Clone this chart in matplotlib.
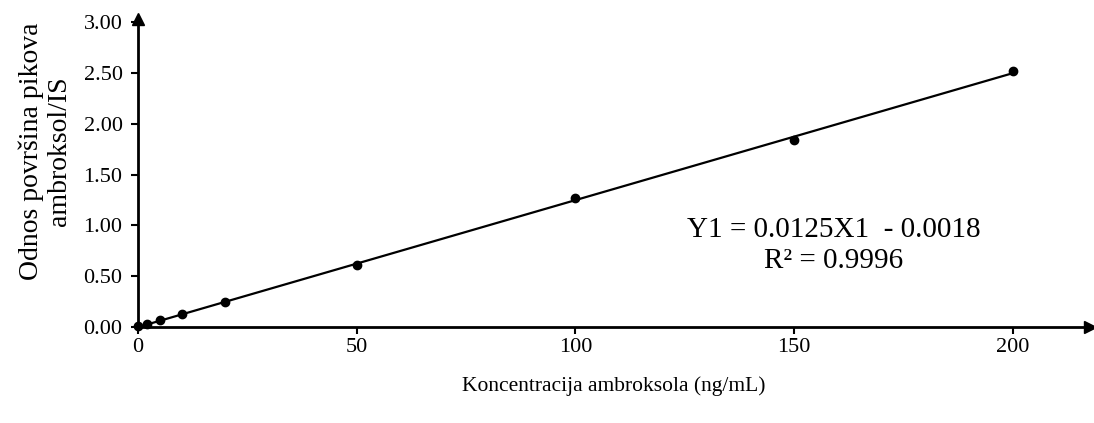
import numpy as np
import matplotlib.pyplot as plt

plt.rcParams['font.family'] = ['Liberation Serif', 'DejaVu Serif']

# calibration data
conc = [0, 2, 5, 10, 20, 50, 100, 150, 200]
ratio = [0.005, 0.03, 0.065, 0.125, 0.25, 0.61, 1.27, 1.84, 2.52]
slope = 0.0125
intercept = -0.0018
xticks = [0, 50, 100, 150, 200]
yticks = [0.0, 0.5, 1.0, 1.5, 2.0, 2.5, 3.0]

fig = plt.figure(figsize=(10.94, 4.23), dpi=100)
ax = fig.add_axes([0.126, 0.227, 0.87, 0.728])

# trendline
xl = np.array([conc[0], conc[-1]])
ax.plot(xl, slope * xl + intercept, color='black', lw=1.6, zorder=2)
ax.plot(conc, ratio, 'o', color='black', ms=6, zorder=3, clip_on=False)

ax.set_xlim(0, 217.5)
ax.set_ylim(0, 3.03)
ax.set_xticks(xticks)
ax.set_yticks(yticks)
ax.set_xticklabels([str(t) for t in xticks])
ax.set_yticklabels([f'{t:.2f}' for t in yticks])
ax.tick_params(axis='both', labelsize=16, direction='out', length=5, width=1.5,
               colors='black')
ax.tick_params(axis='x', pad=3)
ax.tick_params(axis='y', pad=6)

for s in ['top', 'right']:
    ax.spines[s].set_visible(False)
for s in ['left', 'bottom']:
    ax.spines[s].set_linewidth(2)

# arrow heads on axes
ax.plot(1, 0, '>', color='black', ms=9, transform=ax.transAxes, clip_on=False)
ax.plot(0, 1, '^', color='black', ms=9, transform=ax.transAxes, clip_on=False)

ax.set_xlabel('Koncentracija ambroksola (ng/mL)', fontsize=15.5, labelpad=14)
ax.set_ylabel('Odnos površina pikova\nambroksol/IS', fontsize=20,
              linespacing=1.15, va='center')
ax.yaxis.set_label_coords(-0.097, 0.57)

ax.text(159, 0.80, 'Y1 = 0.0125X1  - 0.0018\nR² = 0.9996', fontsize=21,
        ha='center', va='center', linespacing=1.25)

fig.savefig('out.png', dpi=100)
